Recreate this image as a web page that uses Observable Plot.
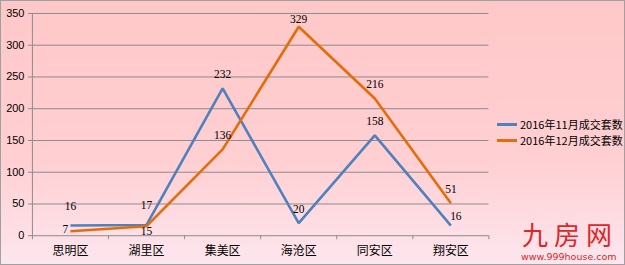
<!DOCTYPE html>
<html><head><meta charset="utf-8">
<script src="https://cdn.jsdelivr.net/npm/d3@7"></script>
<script src="https://cdn.jsdelivr.net/npm/@observablehq/plot@0.6"></script>
<style>
html,body{margin:0;padding:0;}
#wrap{position:relative;width:623px;height:263px;border:1px solid #a0a0a0;
 background:linear-gradient(to bottom,#ffc8c8 0%,#ffcfd2 60%,#fde6ee 100%);overflow:hidden;}
#wrap svg{position:absolute;left:-1px;top:-1px;background:transparent;}
.leg{position:absolute;left:496px;font:11px "Noto Sans CJK SC","DejaVu Sans",sans-serif;color:#000;display:flex;align-items:center;white-space:nowrap;line-height:14px;}
.leg span.sw{display:inline-block;width:20px;height:3px;margin-right:3px;}
.wm{position:absolute;left:521px;top:220px;color:#e0262a;font:26px "Noto Sans CJK SC",sans-serif;line-height:26px;letter-spacing:6px;white-space:nowrap;}
.wm2{position:absolute;left:520px;top:250px;color:#d8262a;font:9.5px "DejaVu Sans",sans-serif;white-space:nowrap;line-height:11px;}
</style></head>
<body><div id="wrap"></div>
<script>
const categories = ["思明区","湖里区","集美区","海沧区","同安区","翔安区"];
const seriesNames = ["2016年11月成交套数","2016年12月成交套数"];
const nov = [16, 17, 232, 20, 158, 16];
const dec = [7, 15, 136, 329, 216, 51];
const yTicks = [0,50,100,150,200,250,300,350];
const colors = ["#4f81bd","#e46c0a"];

const rows = [];
categories.forEach((c,i)=>{
  rows.push({cat:c, i:i+0.5, v:nov[i], s:seriesNames[0]});
  rows.push({cat:c, i:i+0.5, v:dec[i], s:seriesNames[1]});
});
const novRows = rows.filter(d=>d.s===seriesNames[0]);
const decRows = rows.filter(d=>d.s===seriesNames[1]);
// label offsets (dx, dy) per point
const novOff = [[0,-19],[0,-20],[0,-14],[0,-14],[0,-14],[5,-9]];
const decOff = [[-5,-2],[0,5],[0,-14],[0,-7],[0,-14],[0,-14]];
const labelMarks = [
  ...novRows.map((d,k)=>Plot.text([d], {x:"i", y:"v", text:d=>String(d.v), dx:novOff[k][0], dy:novOff[k][1], fontSize:11.5, fontFamily:"'Liberation Serif','DejaVu Serif',serif", fill:"#000"})),
  ...decRows.map((d,k)=>Plot.text([d], {x:"i", y:"v", text:d=>String(d.v), dx:decOff[k][0], dy:decOff[k][1], fontSize:11.5, fontFamily:"'Liberation Serif','DejaVu Serif',serif", fill:"#000"}))
];

const chart = Plot.plot({
  width: 625, height: 265,
  marginLeft: 32, marginRight: 135, marginTop: 13, marginBottom: 29,
  style: {background:"transparent", fontFamily:"'Liberation Sans',sans-serif", fontSize:"11px", color:"#000"},
  x: {type:"linear", domain:[0,6], axis:null, label:null},
  y: {domain:[0,350], axis:null, label:null},
  color: {domain: seriesNames, range: colors},
  marks: [
    Plot.ruleY(yTicks, {stroke:"#8c8c8c", strokeWidth:1, x1:0, x2:6, insetLeft:-4}),
    Plot.ruleX([0], {stroke:"#8c8c8c", strokeWidth:1}),
    Plot.axisY({ticks:yTicks, tickSize:0, tickPadding:8, label:null, fontSize:11, fontFamily:"'Liberation Sans',sans-serif", fill:"#000"}),
    Plot.axisX({ticks:d3.range(0,7), tickSize:4, label:null, tickFormat:()=>"", stroke:"#8c8c8c"}),
    Plot.axisX({ticks:categories.map((c,i)=>i+0.5), tickSize:0, tickPadding:11, label:null,
      tickFormat:(v)=>categories[Math.round(v-0.5)], fontSize:12, fontFamily:"'Noto Sans CJK SC',sans-serif", fill:"#000"}),
    Plot.line(rows, {x:"i", y:"v", z:"s", stroke:"s", strokeWidth:2.6, strokeLinejoin:"miter", strokeLinecap:"butt"}),
    ...labelMarks
  ]
});
const wrap = document.getElementById("wrap");
wrap.appendChild(chart);
seriesNames.forEach((n,k)=>{
  const el = document.createElement("div");
  el.className="leg";
  el.style.top = (k===0?116:132)+"px";
  el.innerHTML = `<span class="sw" style="background:${colors[k]}"></span>${n}`;
  wrap.appendChild(el);
});
const wm = document.createElement("div"); wm.className="wm"; wm.textContent="九房网"; wrap.appendChild(wm);
const wm2 = document.createElement("div"); wm2.className="wm2"; wm2.textContent="www.999house.com"; wrap.appendChild(wm2);
</script></body></html>
